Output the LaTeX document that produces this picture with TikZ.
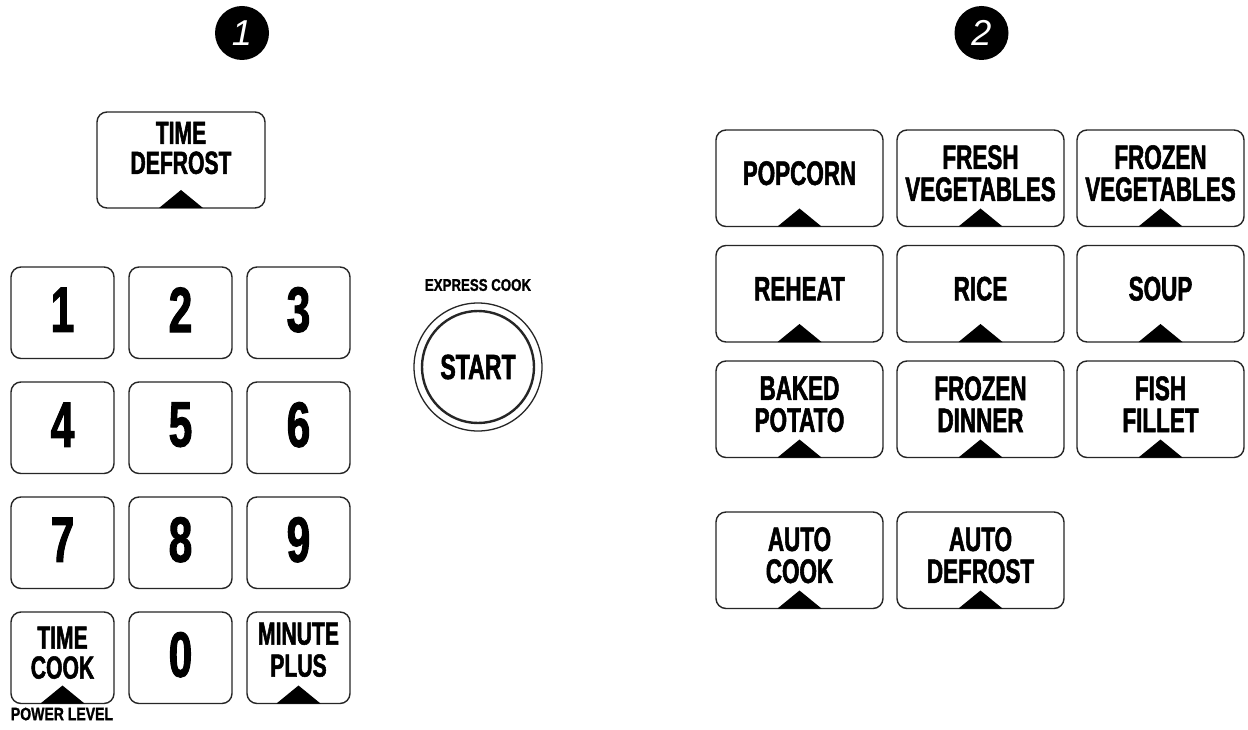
\documentclass[tikz,border=0pt]{standalone}
\usepackage{fontspec}
\newfontfamily\cond[FakeStretch=0.66, FakeBold=1.6]{Liberation Sans}
\newfontfamily\condw[FakeStretch=0.78, FakeBold=1.2]{Liberation Sans}
\newfontfamily\badgefont{Liberation Sans}
\usetikzlibrary{calc}
\tikzset{
  keybox/.style={draw=black!85, line width=1.4pt, rounded corners=10pt, outer sep=0pt, inner sep=0pt},
  padkey/.style={keybox, minimum width=103pt, minimum height=91.5pt},
  bigkey/.style={keybox, minimum width=167pt, minimum height=96.5pt},
  lbl/.style={font=\cond\bfseries\fontsize{34}{32}\selectfont, align=center, inner sep=0pt},
  smlbl/.style={font=\cond\bfseries\fontsize{32}{30}\selectfont, align=center, inner sep=0pt},
  digit/.style={font=\cond\bfseries\fontsize{64}{64}\selectfont, inner sep=0pt},
  tinylbl/.style={font=\condw\bfseries\fontsize{18}{18}\selectfont, inner sep=0pt},
  badge/.style={circle, fill=black, minimum size=54pt, inner sep=0pt, text=white,
    font=\badgefont\itshape\fontsize{36}{36}\selectfont},
  trimark/.style={fill=black}
}
\newcommand\trimark[1]{\fill[trimark] ([xshift=-22pt]#1.south) -- ([yshift=18pt]#1.south) -- ([xshift=22pt]#1.south) -- cycle;}
\begin{document}
\begin{tikzpicture}[x=1pt,y=-1pt]
\useasboundingbox[fill=white] (0,0) rectangle (1248,730);

% badges
\node[badge] (n1) at (242,33) {1};
\node[badge] (n2) at (981.5,33) {2};

% time defrost
\node[keybox, minimum width=168pt, minimum height=96pt] (td) at (181,160) {};
\node[smlbl, font=\cond\bfseries\fontsize{32}{30}\selectfont] (tdt) at ([yshift=12pt]td.center) {TIME\\DEFROST};
\trimark{td}

% keypad
\foreach \n/\x/\y in {1/62.5/312.75, 2/180.5/312.75, 3/298.5/312.75,
                      4/62.5/427.75, 5/180.5/427.75, 6/298.5/427.75,
                      7/62.5/542.75, 8/180.5/542.75, 9/298.5/542.75,
                      0/180.5/657.75}{
  \node[padkey] (k\n) at (\x,\y) {};
  \node[digit] (k\n t) at ([yshift=3pt]k\n.center) {\n};
}
\node[padkey] (tc) at (62.5,657.75) {};
\node[smlbl] (tct) at ([yshift=5pt]tc.center) {TIME\\COOK};
\trimark{tc}
\node[padkey] (mp) at (298.5,657.75) {};
\node[smlbl, font=\cond\bfseries\fontsize{32}{32}\selectfont] (mpt) at ([yshift=8pt]mp.center) {MINUTE\\PLUS};
\trimark{mp}
\node[tinylbl] (pl) at (62,714) {POWER LEVEL};

% start
\node[tinylbl, font=\condw\bfseries\fontsize{17}{17}\selectfont] (ec) at (478,285) {EXPRESS COOK};
\node[circle, draw=black!85, line width=1.3pt, minimum size=128pt, inner sep=0pt] (so) at (478,367) {};
\node[circle, draw=black!85, line width=2.4pt, minimum size=112pt, inner sep=0pt,
      font=\cond\bfseries\fontsize{35}{35}\selectfont] (si) at (478,367) {START};

% right panel
\foreach \nm/\x/\y/\t in {pop/799.5/178.25/POPCORN,
                          fv/980.5/178.25/{FRESH\\VEGETABLES},
                          zv/1160.5/178.25/{FROZEN\\VEGETABLES},
                          rh/799.5/293.75/REHEAT,
                          ri/980.5/293.75/RICE,
                          sp/1160.5/293.75/SOUP,
                          bp/799.5/409.25/{BAKED\\POTATO},
                          fd/980.5/409.25/{FROZEN\\DINNER},
                          ff/1160.5/409.25/{FISH\\FILLET},
                          ac/799.5/560.25/{AUTO\\COOK},
                          ad/980.5/560.25/{AUTO\\DEFROST}}{
  \node[bigkey] (\nm) at (\x,\y) {};
  \node[lbl] (\nm t) at ([yshift=5pt]\nm.center) {\t};
  \trimark{\nm}
}
\end{tikzpicture}
\end{document}
